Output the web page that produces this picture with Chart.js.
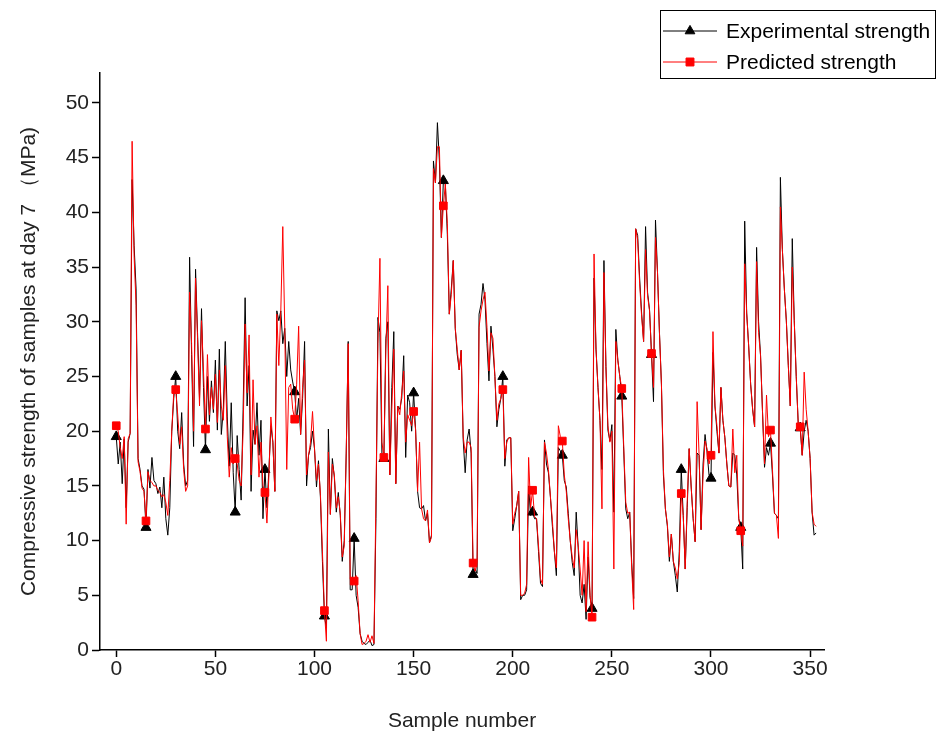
<!DOCTYPE html>
<html>
<head>
<meta charset="utf-8">
<script src="https://cdn.jsdelivr.net/npm/chart.js@4.4.1/dist/chart.umd.min.js"></script>
<style>
  body { margin: 0; background: #fff; }
  canvas { display: block; }
</style>
</head>
<body>
<canvas id="grafico" width="946" height="738"></canvas>
<script>
// valores (MPa)
const experimental = [
  19.5, 17.0, 19.0, 15.2, 19.3, 13.0, 19.0, 19.8, 43.0, 37.0,
  33.0, 17.5, 16.5, 15.0, 14.7, 11.2, 16.5, 14.8, 17.6, 15.5,
  15.2, 14.3, 14.9, 13.0, 15.8, 12.0, 10.5, 13.0, 20.0, 23.0,
  25.0, 20.0, 18.4, 21.7, 17.0, 15.0, 15.5, 35.9, 27.0, 18.6,
  34.8, 29.0, 23.0, 31.2, 24.0, 18.3, 25.0, 20.9, 24.6, 21.7,
  26.5, 20.1, 27.5, 19.7, 22.0, 28.2, 21.3, 16.8, 22.6, 16.2,
  12.6, 19.6, 16.5, 13.7, 22.0, 32.2, 22.3, 26.0, 14.5, 20.1,
  18.8, 22.6, 17.8, 21.0, 12.0, 16.5, 13.0, 16.5, 20.5, 19.0,
  14.5, 31.0, 30.1, 31.0, 28.0, 29.4, 25.0, 28.2, 25.6, 24.5,
  23.6, 21.0, 23.0, 19.7, 23.0, 28.2, 15.0, 17.8, 18.5, 20.0,
  18.4, 14.9, 17.3, 13.9, 8.1, 3.1, 2.0, 20.2, 12.4, 17.5,
  15.8, 12.6, 14.4, 12.3, 8.1, 10.0, 18.0, 28.2, 5.5, 5.5,
  10.2, 5.0, 3.9, 1.5, 0.8, 0.6, 0.5, 0.7, 0.9, 0.4,
  0.5, 12.0, 30.4, 29.0, 18.0, 17.5, 28.5, 30.0, 16.0, 24.0,
  29.1, 15.2, 22.3, 22.0, 23.0, 26.9, 17.6, 23.3, 22.6, 20.0,
  23.5, 20.1, 14.5, 13.0, 12.9, 13.2, 11.8, 12.5, 9.8, 10.5,
  44.7, 42.7, 48.2, 44.7, 37.7, 42.9, 42.6, 38.0, 30.7, 33.0,
  35.6, 29.4, 27.0, 25.6, 27.4, 19.2, 16.2, 19.2, 20.2, 18.0,
  6.9, 7.4, 7.0, 30.7, 31.6, 33.5, 32.0, 28.0, 24.6, 29.6,
  27.5, 25.0, 20.4, 22.0, 23.0, 25.0, 16.8, 19.2, 19.4, 19.4,
  10.9, 12.0, 13.2, 14.5, 4.6, 5.0, 5.0, 5.5, 15.0, 12.3,
  12.6, 12.0, 12.0, 9.0, 6.1, 5.8, 19.2, 17.0, 16.2, 14.0,
  11.3, 9.0, 6.8, 18.5, 18.2, 17.8, 15.5, 14.9, 12.5, 10.0,
  8.0, 6.8, 12.6, 9.4, 5.0, 4.3, 6.0, 2.8, 8.5, 4.8,
  3.8, 34.0, 27.5, 24.0, 21.0, 16.5, 35.6, 25.9, 20.1, 19.1,
  20.6, 12.6, 29.3, 26.5, 25.0, 23.2, 18.1, 12.9, 12.0, 12.6,
  8.0, 4.7, 38.5, 37.9, 34.0, 30.8, 28.2, 38.7, 32.7, 31.1,
  27.0, 22.7, 39.3, 34.6, 29.0, 24.3, 16.0, 12.9, 11.3, 8.1,
  10.6, 8.1, 6.8, 5.3, 9.0, 16.5, 12.3, 7.4, 13.0, 18.4,
  14.9, 12.0, 9.9, 18.0, 17.8, 11.0, 17.0, 19.7, 18.1, 16.0,
  15.7, 27.2, 22.3, 20.0, 18.0, 24.0, 21.0, 19.4, 17.0, 15.0,
  14.9, 18.0, 17.8, 16.0, 12.0, 11.2, 7.4, 39.2, 30.8, 27.8,
  24.3, 22.0, 20.4, 36.8, 30.0, 26.9, 21.7, 16.7, 18.5, 17.8,
  18.9, 16.0, 12.5, 12.3, 12.0, 43.2, 36.6, 33.0, 30.1, 26.0,
  22.3, 37.6, 30.1, 25.0, 20.7, 20.3, 17.8, 20.0, 21.0, 20.0,
  17.5, 12.6, 10.5, 10.7
];

const predicted = [
  20.5, 20.0, 18.5, 17.5, 19.5, 11.5, 19.3, 19.8, 46.5, 36.0,
  31.5, 17.2, 16.3, 14.8, 14.5, 11.8, 16.3, 15.5, 15.3, 15.0,
  15.0, 14.6, 14.4, 14.0, 14.2, 13.5, 12.3, 15.5, 20.0, 23.5,
  23.8, 21.5, 18.8, 20.4, 16.5, 14.5, 15.0, 32.7, 28.0, 20.0,
  34.0, 28.5, 22.3, 30.1, 25.5, 20.2, 27.0, 21.5, 24.0, 22.0,
  25.2, 20.8, 25.6, 22.3, 21.0, 26.0, 19.5, 15.8, 18.5, 17.0,
  17.5, 17.0, 15.5, 15.0, 20.0, 29.8, 23.5, 28.8, 16.0, 24.7,
  18.8, 20.5, 15.8, 19.0, 15.0, 14.4, 11.6, 16.0, 21.3, 19.0,
  14.5, 30.7, 26.0, 31.0, 38.7, 29.4, 16.5, 24.0, 24.3, 22.0,
  21.1, 24.3, 29.6, 19.7, 24.0, 26.5, 16.0, 17.8, 19.0, 21.8,
  18.4, 15.5, 17.0, 14.2, 9.0, 3.6, 0.8, 18.1, 12.4, 17.0,
  16.0, 13.0, 14.0, 12.5, 8.5, 9.5, 18.0, 28.0, 6.5, 6.0,
  6.3, 6.8, 4.5, 1.5, 0.5, 0.6, 0.8, 1.4, 0.7, 1.3,
  0.6, 14.0, 28.0, 35.8, 19.0, 17.6, 27.5, 33.3, 16.0, 22.0,
  27.5, 15.2, 22.3, 21.5, 23.5, 25.5, 19.0, 21.5, 21.0, 20.5,
  21.8, 20.1, 14.5, 19.0, 12.9, 12.0, 11.8, 12.8, 9.8, 10.3,
  44.0, 42.7, 46.0, 46.0, 37.7, 40.6, 42.6, 39.0, 30.7, 32.5,
  35.6, 29.4, 27.5, 25.6, 27.4, 19.5, 18.0, 19.0, 19.0, 18.5,
  7.95, 7.2, 8.0, 29.5, 31.0, 32.0, 32.7, 29.5, 25.5, 29.0,
  28.5, 25.0, 21.0, 22.5, 23.0, 23.8, 17.5, 19.0, 19.4, 19.4,
  11.5, 12.5, 13.2, 14.5, 5.0, 5.0, 5.2, 6.0, 17.6, 13.0,
  14.6, 12.2, 12.0, 9.5, 6.5, 6.0, 19.0, 18.0, 16.5, 14.0,
  11.8, 9.0, 7.5, 20.5, 19.5, 19.1, 16.0, 14.5, 12.0, 10.0,
  8.5, 7.5, 11.0, 9.5, 7.4, 5.0, 10.0, 3.5, 9.9, 5.0,
  3.0, 36.2, 27.5, 24.0, 21.0, 12.9, 34.5, 25.9, 20.5, 19.0,
  20.0, 7.4, 28.2, 26.5, 25.0, 23.9, 18.5, 13.5, 12.5, 12.6,
  7.5, 3.7, 38.5, 37.5, 33.5, 30.5, 28.2, 36.6, 32.4, 31.0,
  27.1, 24.0, 37.7, 34.6, 29.0, 24.3, 16.5, 12.9, 11.5, 8.5,
  10.6, 8.1, 7.5, 6.5, 8.0, 14.3, 12.3, 7.4, 13.5, 18.4,
  14.9, 12.0, 9.9, 22.7, 17.8, 11.0, 16.0, 19.1, 18.4, 17.0,
  17.8, 29.1, 22.3, 20.5, 18.0, 24.0, 21.0, 19.4, 17.0, 15.0,
  14.9, 20.2, 16.2, 17.8, 12.0, 10.9, 9.5, 35.3, 30.8, 27.8,
  24.3, 22.0, 20.4, 35.5, 29.0, 26.9, 21.7, 17.0, 23.3, 19.5,
  20.1, 16.5, 12.5, 12.3, 10.2, 40.5, 36.6, 33.0, 30.1, 26.0,
  22.3, 35.0, 30.1, 25.0, 20.7, 20.4, 17.8, 25.4, 22.0, 20.0,
  17.5, 12.6, 11.5, 11.3
];

// muestras con simbolo
const muestrasMarcadas = [0, 15, 30, 45, 60, 75, 90, 105, 120, 135, 150, 165,
  180, 195, 210, 225, 240, 255, 270, 285, 300, 315, 330, 345];
const ticksX = [0, 50, 100, 150, 200, 250, 300, 350];
const ticksY = [0, 5, 10, 15, 20, 25, 30, 35, 40, 45, 50];

const muestras = experimental.map((_, i) => i);
const fuente = "'Liberation Sans', Arial, sans-serif";

const fondoBlanco = {
  id: "fondoBlanco",
  beforeDraw(chart) {
    const ctx = chart.ctx;
    ctx.save();
    ctx.fillStyle = "#fff";
    ctx.fillRect(0, 0, chart.width, chart.height);
    ctx.restore();
  }
};

// leyenda con recuadro arriba a la derecha
const cajaLeyenda = {
  id: "cajaLeyenda",
  afterDraw(chart) {
    const ctx = chart.ctx;
    ctx.save();
    ctx.strokeStyle = "#000";
    ctx.lineWidth = 1;
    ctx.strokeRect(660.5, 10.5, 275, 68);
    chart.data.datasets.forEach((ds, k) => {
      const y = 31 + k * 31;
      ctx.strokeStyle = ds.borderColor;
      ctx.lineWidth = 1;
      ctx.beginPath();
      ctx.moveTo(663, y);
      ctx.lineTo(717, y);
      ctx.stroke();
      ctx.fillStyle = ds.backgroundColor;
      Chart.helpers.drawPoint(ctx, { pointStyle: ds.pointStyle, radius: 5.6, borderWidth: 1, rotation: 0 }, 690, y);
      ctx.fillStyle = "#000";
      ctx.font = "21px " + fuente;
      ctx.textBaseline = "middle";
      ctx.fillText(ds.label, 726, y + 1);
    });
    ctx.restore();
  }
};

const radioMarcador = r => ctx => muestrasMarcadas.includes(ctx.dataIndex) ? r : 0;

new Chart(document.getElementById("grafico"), {
  type: "line",
  data: {
    labels: muestras,
    datasets: [
      {
        label: "Experimental strength",
        data: experimental,
        borderColor: "#000",
        backgroundColor: "#000",
        borderWidth: 1,
        pointStyle: "triangle",
        pointRadius: radioMarcador(5.8),
        pointBorderWidth: 1,
        pointHoverRadius: 0,
        tension: 0,
        order: 1
      },
      {
        label: "Predicted strength",
        data: predicted,
        borderColor: "#ff0000",
        backgroundColor: "#ff0000",
        borderWidth: 1,
        pointStyle: "rect",
        pointRadius: radioMarcador(5.4),
        pointBorderWidth: 1,
        pointHoverRadius: 0,
        tension: 0,
        order: 0
      }
    ]
  },
  options: {
    responsive: false,
    animation: false,
    layout: { padding: { top: 73, right: 122, left: 0, bottom: 0 } },
    plugins: {
      legend: { display: false },
      tooltip: { enabled: false }
    },
    scales: {
      x: {
        type: "linear",
        min: -8.2,
        max: 357,
        afterBuildTicks: s => { s.ticks = ticksX.map(v => ({ value: v })); },
        afterFit: s => { s.height = 88; },
        grid: { drawOnChartArea: false, tickLength: 7, color: "#000", tickWidth: 1.5 },
        border: { color: "#000", width: 1.5 },
        ticks: { color: "#222", font: { size: 21, family: fuente }, padding: 0, maxRotation: 0 },
        title: {
          display: true, text: "Sample number", color: "#222",
          font: { size: 21, family: fuente }, padding: { top: 0, bottom: 4 }
        }
      },
      y: {
        min: 0,
        max: 52.74,
        afterBuildTicks: s => { s.ticks = ticksY.map(v => ({ value: v })); },
        afterFit: s => { s.width = 100; },
        grid: { drawOnChartArea: false, tickLength: 8, color: "#000", tickWidth: 1.5 },
        border: { color: "#000", width: 1.5 },
        ticks: { color: "#222", font: { size: 21, family: fuente }, padding: 3 },
        title: {
          display: true, text: "Compressive strength of samples at day 7 （MPa)", color: "#222",
          font: { size: 21, family: fuente }, padding: { top: 17, bottom: 0 }
        }
      }
    }
  },
  plugins: [fondoBlanco, cajaLeyenda]
});
</script>
</body>
</html>
